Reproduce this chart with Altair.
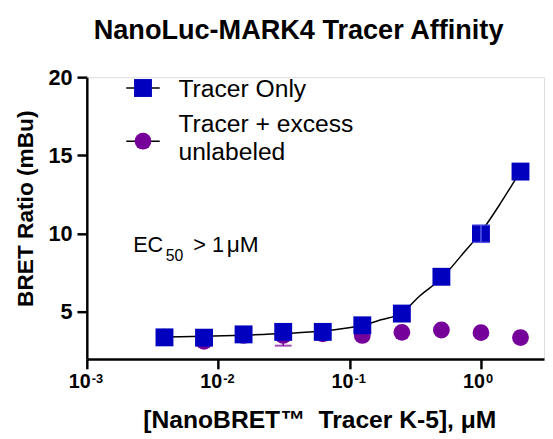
import altair as alt
import pandas as pd

# ---- data ----
conc = [0.0039, 0.0078, 0.0156, 0.03125, 0.0625, 0.125, 0.25, 0.5, 1.0, 2.0]
tracer_only = [3.38, 3.36, 3.57, 3.73, 3.73, 4.15, 4.90, 7.25, 10.0, 13.97]
tracer_excess = [3.40, 3.13, 3.50, 3.50, 3.60, 3.50, 3.70, 3.85, 3.68, 3.37]
err_only = [0, 0, 0, 0, 0, 0, 0, 0, 0.55, 0]
err_excess = [0, 0, 0, 0.65, 0, 0, 0, 0, 0, 0]

curve_conc = [0.0039, 0.0078, 0.0156, 0.03125, 0.0625, 0.09, 0.125, 0.173, 0.25, 0.345, 0.5, 0.708, 1.0, 1.41, 2.0]
curve_bret = [3.40, 3.45, 3.52, 3.62, 3.78, 3.95, 4.15, 4.50, 4.95, 6.05, 7.15, 8.60, 10.1, 11.95, 14.0]

x_ticks = [0.001, 0.01, 0.1, 1]
x_bases = ["10", "10", "10", "10"]
x_exponents = ["-3", "-2", "-1", "0"]
y_ticks = [5, 10, 15, 20]

series_names = ["Tracer Only", "Tracer + excess", "unlabeled"]
title_text = "NanoLuc-MARK4 Tracer Affinity"
x_title = "[NanoBRET\u2122\u00a0 Tracer K-5], \u03bcM"
y_title = "BRET Ratio (mBu)"

BLUE = "#0000BE"
PURPLE = "#76009A"
FONT = "Liberation Sans"

W, H = 464, 286

only_df = pd.DataFrame({"conc": conc, "bret": tracer_only, "err": err_only})
only_df["lo"] = only_df.bret - only_df.err
only_df["hi"] = only_df.bret + only_df.err
exc_df = pd.DataFrame({"conc": conc, "bret": tracer_excess, "err": err_excess})
exc_df["lo"] = exc_df.bret - exc_df.err
exc_df["hi"] = exc_df.bret + exc_df.err
curve_df = pd.DataFrame({"conc": curve_conc, "bret": curve_bret})
lab_df = pd.DataFrame({"conc": x_ticks, "base": x_bases, "exp": x_exponents})

xscale = alt.Scale(type="log", domain=[0.001, 3.02], nice=False)
yscale = alt.Scale(domain=[2, 20], nice=False, zero=False)

x_axis = alt.Axis(
    values=x_ticks, labels=False,
    tickSize=10, tickWidth=2.5, tickColor="black",
    domainColor="black", domainWidth=2.5, grid=False,
    title=x_title, titleFont=FONT, titleFontSize=25, titleFontWeight="bold",
    titleColor="black", titleX=236, titleY=62, titleBaseline="middle",
    titleAlign="center",
)
y_axis = alt.Axis(
    values=y_ticks, labelFont=FONT, labelFontSize=22, labelFontWeight="bold",
    labelColor="black", labelPadding=5, tickSize=10, tickWidth=2.5,
    tickColor="black", domainColor="black", domainWidth=2.5, grid=False,
    title=y_title, titleFont=FONT, titleFontSize=23, titleFontWeight="bold",
    titleColor="black", titleX=-62, titleY=133, titleAngle=270,
    titleBaseline="middle", titleAlign="center",
)

X = alt.X("conc:Q", scale=xscale, axis=x_axis)
Y = alt.Y("bret:Q", scale=yscale, axis=y_axis)
Xn = alt.X("conc:Q", scale=xscale)
Yn = alt.Y("bret:Q", scale=yscale)

curve = alt.Chart(curve_df).mark_line(color="black", strokeWidth=1.5, interpolate="monotone").encode(x=X, y=Y)

exc_err = alt.Chart(exc_df[exc_df.err > 0]).mark_rule(color=PURPLE, strokeWidth=1.5).encode(
    x=Xn, y=alt.Y("lo:Q", scale=yscale), y2="hi:Q")
exc_cap_lo = alt.Chart(exc_df[exc_df.err > 0]).mark_tick(color=PURPLE, orient="horizontal", size=17, thickness=2).encode(
    x=Xn, y=alt.Y("lo:Q", scale=yscale))
exc_cap_hi = alt.Chart(exc_df[exc_df.err > 0]).mark_tick(color=PURPLE, orient="horizontal", size=17, thickness=2).encode(
    x=Xn, y=alt.Y("hi:Q", scale=yscale))
circles = alt.Chart(exc_df).mark_circle(color=PURPLE, size=290, opacity=1).encode(x=Xn, y=Yn)

squares = alt.Chart(only_df).mark_point(shape="square", filled=True, color=BLUE, size=330, opacity=1).encode(x=Xn, y=Yn)
only_err = alt.Chart(only_df[only_df.err > 0]).mark_rule(color="#5A5AE6", strokeWidth=1.5).encode(
    x=Xn, y=alt.Y("lo:Q", scale=yscale), y2="hi:Q")
only_cap_lo = alt.Chart(only_df[only_df.err > 0]).mark_tick(color="#5A5AE6", orient="horizontal", size=17, thickness=1.5).encode(
    x=Xn, y=alt.Y("lo:Q", scale=yscale))
only_cap_hi = alt.Chart(only_df[only_df.err > 0]).mark_tick(color="#5A5AE6", orient="horizontal", size=17, thickness=1.5).encode(
    x=Xn, y=alt.Y("hi:Q", scale=yscale))

bases = alt.Chart(lab_df).mark_text(align="right", baseline="middle", dx=4, font=FONT,
                                    fontSize=20, fontWeight="bold", color="black").encode(
    x=Xn, y=alt.value(309), text="base:N")
exps = alt.Chart(lab_df).mark_text(align="left", baseline="middle", dx=5, font=FONT,
                                   fontSize=13, fontWeight="bold", color="black").encode(
    x=Xn, y=alt.value(306), text="exp:N")

one = pd.DataFrame({"k": [0]})


def txt(text, x, y, size, weight="normal", align="left", baseline="middle"):
    return alt.Chart(one).mark_text(text=text, align=align, baseline=baseline, font=FONT,
                                    fontSize=size, fontWeight=weight, color="black").encode(
        x=alt.value(x), y=alt.value(y))


title = txt(title_text, 7, -47, 27.5, "bold")

# legend
leg_line1 = alt.Chart(one).mark_rule(color="black", strokeWidth=1.5).encode(
    x=alt.value(40), x2=alt.value(74), y=alt.value(11))
leg_sq = alt.Chart(one).mark_point(shape="square", filled=True, color=BLUE, size=330, opacity=1).encode(
    x=alt.value(57), y=alt.value(11))
leg_line2 = alt.Chart(one).mark_rule(color="black", strokeWidth=1.5).encode(
    x=alt.value(40), x2=alt.value(74), y=alt.value(65))
leg_ci = alt.Chart(one).mark_circle(color=PURPLE, size=290, opacity=1).encode(
    x=alt.value(57), y=alt.value(65))
leg_t1 = txt(series_names[0], 93, 12, 25)
leg_t2 = txt(series_names[1], 93, 48, 25)
leg_t3 = txt(series_names[2], 93, 76, 25)

ec1 = txt("EC", 47, 170, 22)
ec2 = txt("50", 80, 182, 16)
ec3 = txt("> 1", 108, 170, 22)
ec4 = txt("\u03bcM", 142, 170, 23)

chart = alt.layer(
    curve, exc_err, exc_cap_lo, exc_cap_hi, circles, squares, only_err, only_cap_lo, only_cap_hi,
    bases, exps, title, leg_line1, leg_sq, leg_line2, leg_ci, leg_t1, leg_t2, leg_t3,
    ec1, ec2, ec3, ec4,
).properties(
    width=W, height=H,
    padding={"left": 80, "top": 67, "right": 1, "bottom": 76},
    autosize=alt.AutoSizeParams(type="none"),
).configure_view(stroke=None).configure(background="white")

chart.save("out.html", embed_options={"renderer": "svg", "actions": False})
